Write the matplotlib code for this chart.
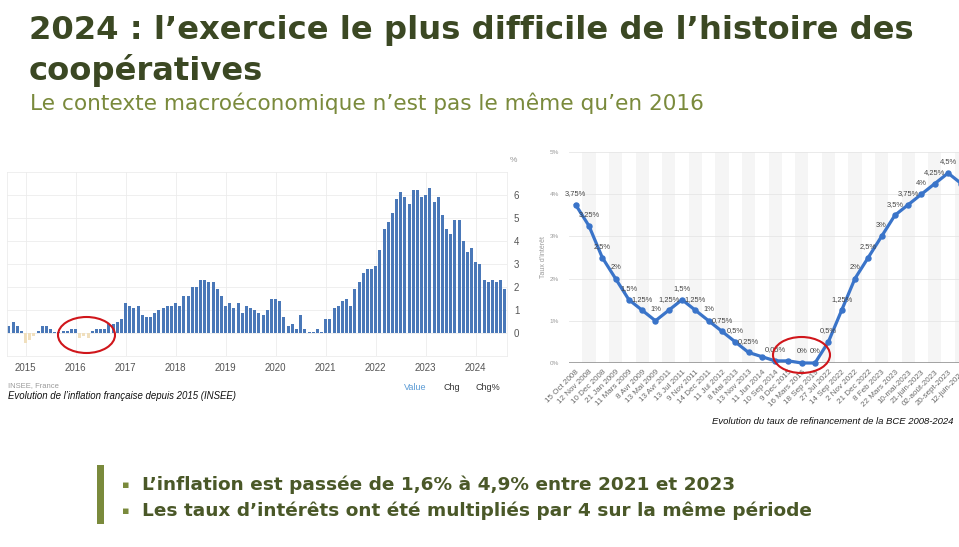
import numpy as np
import matplotlib
matplotlib.use("Agg")
from matplotlib import pyplot as plt
from matplotlib.patches import Ellipse, Rectangle

W, H = 959, 547

# French inflation (INSEE), monthly from Sep 2014 to Aug 2024
inflation = [
    0.3, 0.5, 0.3, 0.1,                                                 # 2014 sep-dec
    -0.4, -0.3, -0.1, 0.1, 0.3, 0.3, 0.2, 0.04, 0.04, 0.1, 0.1, 0.2,    # 2015
    0.2, -0.2, -0.1, -0.2, 0.1, 0.2, 0.2, 0.2, 0.4, 0.4, 0.5, 0.6,      # 2016
    1.3, 1.2, 1.1, 1.2, 0.8, 0.7, 0.7, 0.9, 1.0, 1.1, 1.2, 1.2,         # 2017
    1.3, 1.2, 1.6, 1.6, 2.0, 2.0, 2.3, 2.3, 2.2, 2.2, 1.9, 1.6,         # 2018
    1.2, 1.3, 1.1, 1.3, 0.9, 1.2, 1.1, 1.0, 0.9, 0.8, 1.0, 1.5,         # 2019
    1.5, 1.4, 0.7, 0.3, 0.4, 0.2, 0.8, 0.2, 0.04, 0.04, 0.2, 0.04,      # 2020
    0.6, 0.6, 1.1, 1.2, 1.4, 1.5, 1.2, 1.9, 2.2, 2.6, 2.8, 2.8,         # 2021
    2.9, 3.6, 4.5, 4.8, 5.2, 5.8, 6.1, 5.9, 5.6, 6.2, 6.2, 5.9,         # 2022
    6.0, 6.3, 5.7, 5.9, 5.1, 4.5, 4.3, 4.9, 4.9, 4.0, 3.5, 3.7,         # 2023
    3.1, 3.0, 2.3, 2.2, 2.3, 2.2, 2.3, 1.9,                             # 2024 jan-aug
]
years = ['2015', '2016', '2017', '2018', '2019', '2020', '2021', '2022', '2023', '2024']
first_january = 4  # index of jan 2015 in the monthly list

# ECB refinancing rate
rate_dates = ['15 Oct 2008', '12 Nov 2008', '10 Dec 2008', '21 Jan 2009', '11 Mars 2009',
              '8 Avr 2009', '13 Mai 2009', '13 Avr 2011', '13 Jul 2011', '9 Nov 2011',
              '14 Dec 2011', '11 Jul 2012', '8 Mai 2013', '13 Nov 2013', '11 Jun 2014',
              '10 Sep 2014', '9 Dec 2015', '16 Mars 2016', '18 Sep 2019', '27 Jul 2022',
              '14 Sep 2022', '2 Nov 2022', '21 Dec 2022', '8 Feb 2023', '22 Mars 2023',
              '10-mai-2023', '21-juin-2023', '02-août-2023', '20-sept-2023', '12-juin-2024']
rates = [3.75, 3.25, 2.5, 2.0, 1.5, 1.25, 1.0, 1.25, 1.5, 1.25,
         1.0, 0.75, 0.5, 0.25, 0.15, 0.05, 0.05, 0.0, 0.0, 0.5,
         1.25, 2.0, 2.5, 3.0, 3.5, 3.75, 4.0, 4.25, 4.5, 4.25]
unlabelled = [14, 16, 29]

title_1 = "2024 : l\u2019exercice le plus difficile de l\u2019histoire des"
title_2 = "coop\u00e9ratives"
subtitle = "Le contexte macro\u00e9conomique n\u2019est pas le m\u00eame qu\u2019en 2016"
bullets = ["L\u2019inflation est pass\u00e9e de 1,6% \u00e0 4,9% entre 2021 et 2023",
           "Les taux d\u2019int\u00e9r\u00eats ont \u00e9t\u00e9 multipli\u00e9s par 4 sur la m\u00eame p\u00e9riode"]

DARK_OLIVE = '#3b4823'
OLIVE = '#7a8a3c'
CHART_FONT = 'Liberation Sans'
SLIDE_FONT = 'DejaVu Sans'


def px(x, y):
    # pixel coords (top-left origin) -> figure fraction
    return x / W, 1 - y / H


def main():
    fig = plt.figure(figsize=(W / 100, H / 100), dpi=100)
    fig.patch.set_facecolor('white')

    # slide titles
    fig.text(*px(29, 39), title_1, fontsize=23.2, fontweight='bold', color=DARK_OLIVE,
             family=SLIDE_FONT, va='baseline')
    fig.text(*px(29, 80), title_2, fontsize=23.2, fontweight='bold', color=DARK_OLIVE,
             family=SLIDE_FONT, va='baseline')
    fig.text(*px(30, 110), subtitle, fontsize=15.6, color=OLIVE, family=SLIDE_FONT, va='baseline')

    # ---- left chart: inflation bars
    ax1 = fig.add_axes([7 / W, 1 - 356.4 / H, 500 / W, 184.8 / H])
    vals = np.array(inflation)
    x = np.arange(len(vals))
    colors = np.where(vals < 0, '#f0dfbd', '#4a78b8')
    ax1.bar(x, vals, width=0.72, color=colors, zorder=2)
    ax1.set_xlim(-0.45, len(vals) - 0.5)
    ax1.set_ylim(-1, 7)
    ax1.set_yticks(range(0, 7))
    ax1.yaxis.tick_right()
    ax1.tick_params(axis='y', length=0, pad=5, labelsize=7, labelcolor='#555555')
    year_pos = [first_january + 12 * k for k in range(len(years))]
    ax1.set_xticks(year_pos)
    ax1.set_xticklabels(years)
    ax1.tick_params(axis='x', length=0, pad=5, labelsize=7, labelcolor='#555555')
    for lbl in ax1.get_xticklabels() + ax1.get_yticklabels():
        lbl.set_family(CHART_FONT)
    ax1.grid(True, color='#ececec', lw=0.6, zorder=0)
    for s in ax1.spines.values():
        s.set_color('#ececec')
        s.set_linewidth(0.6)
    fig.text(*px(510, 160), '%', fontsize=6, color='#999999', family=CHART_FONT, va='center')

    fig.text(*px(8, 386), 'INSEE, France', fontsize=5.5, color='#9a9a9a', family=CHART_FONT, va='center')
    fig.text(*px(8, 396), 'Evolution de l\u2019inflation fran\u00e7aise depuis 2015 (INSEE)', fontsize=6.9,
             style='italic', color='#111111', family=CHART_FONT, va='center')
    fig.text(*px(404, 387), 'Value', fontsize=6.5, color='#5b9bd5', family=CHART_FONT, va='center')
    fig.text(*px(443, 387), 'Chg', fontsize=6.5, color='#333333', family=CHART_FONT, va='center')
    fig.text(*px(475, 387), 'Chg%', fontsize=6.5, color='#333333', family=CHART_FONT, va='center')

    # ---- right chart: ECB rate
    ax2 = fig.add_axes([569 / W, 1 - 363 / H, 399 / W, 211 / H])
    xr = np.arange(len(rates))
    for i in xr[1::2]:
        ax2.axvspan(i - 0.5, i + 0.5, color='#f5f5f5', lw=0, zorder=0)
    ax2.plot(xr, rates, color='#3a74c9', lw=2.3, marker='o', ms=3.6, zorder=3, clip_on=False)
    for i, v in enumerate(rates):
        if i in unlabelled:
            continue
        txt = ('%g%%' % v).replace('.', ',')
        ax2.annotate(txt, (i, v), xytext=(0, 8), textcoords='offset points', ha='center',
                     va='center', fontsize=5.4, color='#444444', family=CHART_FONT, zorder=4)
    ax2.set_xlim(-0.5, len(rates) - 0.5)
    ax2.set_ylim(0, 5)
    ax2.set_yticks(range(0, 6))
    ax2.set_yticklabels(['%d%%' % v for v in range(0, 6)])
    ax2.set_xticks(xr)
    ax2.set_xticklabels(rate_dates, rotation=45, ha='right', rotation_mode='anchor')
    ax2.tick_params(axis='y', length=0, pad=7, labelsize=4.6, labelcolor='#9a9a9a')
    ax2.tick_params(axis='x', length=0, pad=4, labelsize=5.8, labelcolor='#6a6a6a')
    for lbl in ax2.get_xticklabels() + ax2.get_yticklabels():
        lbl.set_family(CHART_FONT)
    ax2.yaxis.grid(True, color='#e6e6e6', lw=0.6, zorder=1)
    ax2.axhline(0, color='#8c8c8c', lw=1.1, zorder=2)
    for s in ax2.spines.values():
        s.set_visible(False)
    ax2.set_ylabel('Taux d\u2019int\u00e9r\u00eat', fontsize=5, color='#9a9a9a', family=CHART_FONT, labelpad=2)

    fig.text(*px(712, 421), 'Evolution du taux de refinancement de la BCE 2008-2024', fontsize=6.8,
             style='italic', color='#111111', family=CHART_FONT, va='center')

    # red circles
    for cx, cy in [(86.5, 335), (801.5, 355)]:
        fig.add_artist(Ellipse(px(cx, cy), 57 / W, 36 / H, transform=fig.transFigure,
                               fill=False, edgecolor='#d0161b', lw=1.5, zorder=10))

    # bullet block
    fig.add_artist(Rectangle(px(97, 524), 7 / W, 59 / H, transform=fig.transFigure,
                             color=OLIVE, lw=0))
    for k, b in enumerate(bullets):
        y = 490 + 25.5 * k
        fig.text(*px(122, y - 4.5), '\u25aa', fontsize=8, color=OLIVE, family='DejaVu Sans', va='center')
        fig.text(*px(142, y), b, fontsize=13.3, fontweight='bold', color='#4a5828',
                 family=SLIDE_FONT, va='baseline')

    fig.savefig('out.png', dpi=100)


if __name__ == '__main__':
    main()
